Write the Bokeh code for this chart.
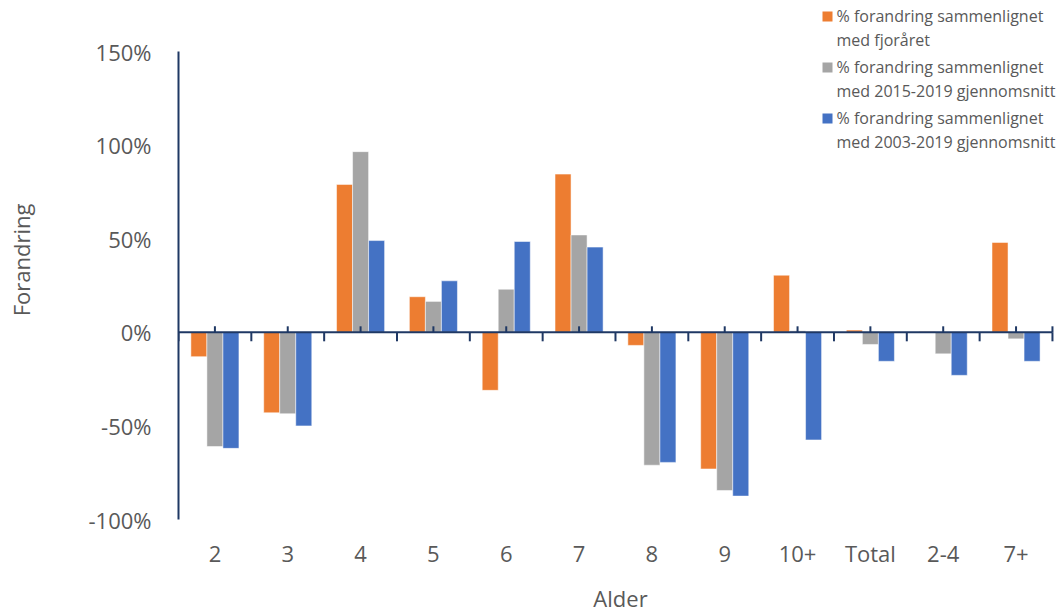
from bokeh.plotting import figure
from bokeh.models import Range1d, FixedTicker, PrintfTickFormatter, ColumnDataSource
from bokeh.core.properties import value
from bokeh.embed import file_html
from bokeh.resources import INLINE

# Age groups on the category axis
ages = ["2", "3", "4", "5", "6", "7", "8", "9", "10+", "Total", "2-4", "7+"]

# Percentage change per age group
vs_last_year = [-13, -43, 79, 19, -31, 84.5, -7, -73, 30.5, 1.2, 0.4, 48]
vs_2015_2019 = [-61, -43.5, 96.5, 16.5, 23, 52, -71, -84.5, 0.8, -6.5, -11.5, -3.5]
vs_2003_2019 = [-62, -50, 49, 27.5, 48.5, 45.5, -69.5, -87.5, -57.5, -15.5, -23, -15.5]

series_labels = [
    ["% forandring sammenlignet", "med fjoråret"],
    ["% forandring sammenlignet", "med 2015-2019 gjennomsnitt"],
    ["% forandring sammenlignet", "med 2003-2019 gjennomsnitt"],
]
y_ticks = [-100, -50, 0, 50, 100, 150]

COLORS = ["#ED7D31", "#A5A5A5", "#4472C4"]
AXIS = "#1F3864"
TEXT = "#595959"
FONT = "Open Sans"

n = len(ages)
centers = [i + 0.5 for i in range(n)]
bar_w = 0.22
offsets = [-bar_w, 0.0, bar_w]

# frame geometry: 1.872 px per percentage point, 72.83 px per category
px_per_pct = 1.872
px_per_cat = 72.83
left = 178
frame_h = 519
frame_w = 1062 - left
zero_px = frame_h - 100 * px_per_pct   # canvas row of the zero line


def to_x(px):
    return (px - left) / px_per_cat


def to_y(py):
    return (zero_px - py) / px_per_pct


p = figure(width=1062, height=616, output_backend="svg", toolbar_location=None,
           x_range=Range1d(0, frame_w / px_per_cat),
           y_range=Range1d(-100, -100 + frame_h / px_per_pct),
           min_border_left=left, min_border_right=0, min_border_top=0,
           min_border_bottom=616 - frame_h)
p.outline_line_color = None
p.xgrid.visible = False
p.ygrid.visible = False
p.background_fill_color = "white"
p.border_fill_color = "white"

series = [vs_last_year, vs_2015_2019, vs_2003_2019]
for vals, off, color in zip(series, offsets, COLORS):
    src = ColumnDataSource(dict(x=[c + off for c in centers], top=vals))
    p.vbar(x="x", top="top", bottom=0, width=bar_w, source=src,
           fill_color=color, line_color="white", line_alpha=0.5, line_width=1)

# horizontal axis line through zero with its tick marks
p.segment(x0=[0], y0=[0], x1=[n], y1=[0], line_color=AXIS, line_width=2)
bounds = list(range(n + 1))
p.segment(x0=bounds, y0=[0] * len(bounds), x1=bounds, y1=[-9 / px_per_pct] * len(bounds),
          line_color=AXIS, line_width=2)
up = centers + [n]
p.segment(x0=up, y0=[0] * len(up), x1=up, y1=[6 / px_per_pct] * len(up),
          line_color=AXIS, line_width=2)

# vertical axis
yax = p.yaxis[0]
yax.ticker = FixedTicker(ticks=y_ticks)
yax.formatter = PrintfTickFormatter(format="%d%%")
yax.bounds = (-100, 150)
yax.axis_line_color = AXIS
yax.axis_line_width = 2
yax.major_tick_line_color = None
yax.minor_tick_line_color = None
yax.major_tick_out = 0
yax.major_tick_in = 0
yax.major_label_standoff = 27
yax.major_label_text_font = FONT
yax.major_label_text_font_size = "22px"
yax.major_label_text_color = TEXT
yax.axis_label = "Forandring"
yax.axis_label_text_font = FONT
yax.axis_label_text_font_size = "22px"
yax.axis_label_text_font_style = "normal"
yax.axis_label_text_color = TEXT
yax.axis_label_standoff = 49

# category labels along the bottom
xax = p.xaxis[0]
xax.ticker = FixedTicker(ticks=centers)
xax.major_label_overrides = {c: a for c, a in zip(centers, ages)}
xax.axis_line_color = None
xax.major_tick_line_color = None
xax.minor_tick_line_color = None
xax.major_tick_out = 0
xax.major_tick_in = 0
xax.major_label_standoff = 18
xax.major_label_text_font = FONT
xax.major_label_text_font_size = "22px"
xax.major_label_text_color = TEXT
xax.axis_label = "Alder"
xax.axis_label_text_font = FONT
xax.axis_label_text_font_size = "22px"
xax.axis_label_text_font_style = "normal"
xax.axis_label_text_color = TEXT
xax.axis_label_standoff = 12

# legend: colour square beside a two-line description
sq_x, txt_x, row0, pitch, line_gap = 827, 836, 15, 51, 24
sq_y = [to_y(row0 + 1 + pitch * i) for i in range(3)]
p.rect(x=[to_x(sq_x)] * 3, y=sq_y, width=10, height=10,
       width_units="screen", height_units="screen",
       fill_color=COLORS, line_color=None)
tx, ty, tt = [], [], []
for i, lines in enumerate(series_labels):
    for j, line in enumerate(lines):
        tx.append(to_x(txt_x))
        ty.append(to_y(row0 + pitch * i + line_gap * j))
        tt.append(line)
p.text(x=tx, y=ty, text=tt, text_font=value(FONT), text_font_size="16px",
       text_color=TEXT, text_align="left", text_baseline="middle")

open("out.html", "w").write(file_html(p, INLINE))
